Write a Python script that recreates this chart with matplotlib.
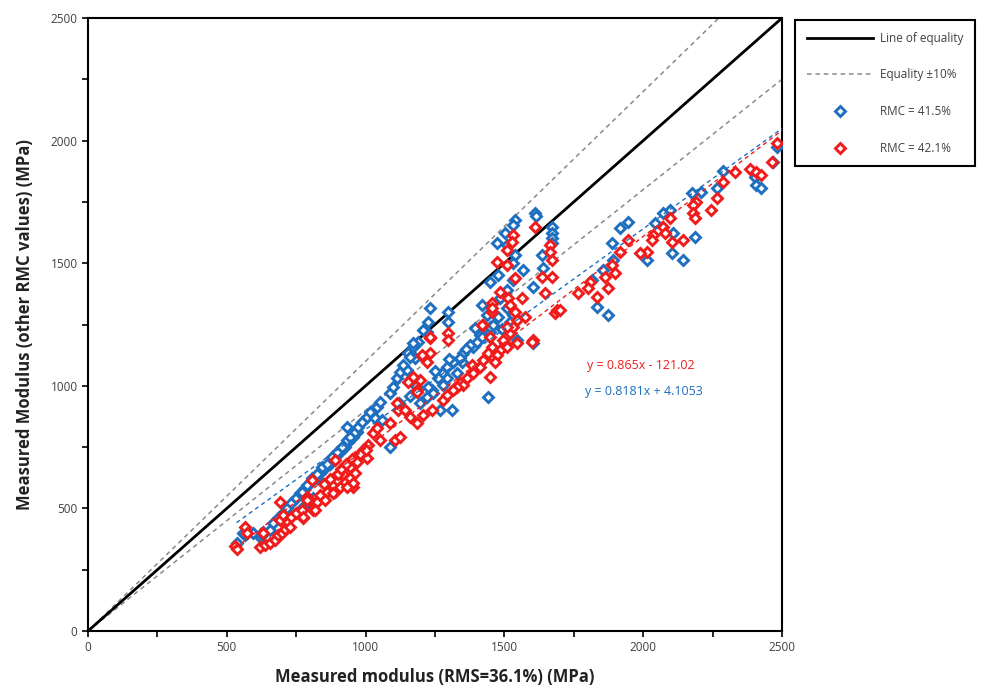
import numpy as np
import matplotlib
matplotlib.use('Agg')
import matplotlib.pyplot as plt
from matplotlib.lines import Line2D

# RMC = 41.5% (blue)
blue_x = [535, 565, 595, 560, 620, 625, 631, 656, 667, 685, 703, 716, 733, 751, 764, 782, 800, 824, 836, 854,
          872, 890, 908, 926, 938, 956, 968, 932, 764, 788, 811,
          770, 788, 806, 824, 842, 860, 878, 896, 914, 932, 944, 962, 974, 986, 1004, 1016, 1040, 1052, 1088,
          1100, 1112, 1124, 1148, 1154, 1172, 1190, 1220, 1178, 1034, 1088, 1196, 1220, 1238, 1280, 1292, 1328,
          1346, 1268, 1310, 1388, 1448, 1544, 1604,
          1610, 1614, 1538, 1532, 1502, 1472, 1508, 1670, 1670, 1670, 1670, 1538, 1532, 1568, 1634, 1640, 1478,
          1448, 1532, 1604, 1508, 1484, 1418, 1436, 1478, 1508, 1532, 1232, 1298, 1298, 1226, 1208, 1172, 1448,
          1394, 1412, 1376, 1352, 1340, 1316, 1292, 1274, 1262, 1226, 1244, 1442, 1160, 1136,
          1060, 1120, 1160, 1180, 1250, 1300, 1360, 1400, 1420, 1460, 1490, 1520,
          2481, 2469, 2403, 2408, 2426, 2289, 2265, 2174, 2210, 2096, 2072, 2042, 2186, 2108, 2102, 2144, 2012,
          1946, 1916, 1886, 1892, 1856, 1814, 1832, 1874]
blue_y = [360, 391, 398, 398, 385, 391, 405, 412, 439, 459, 480, 500, 521, 541, 562, 582, 602, 622, 643, 663,
          683, 710, 731, 751, 772, 792, 813, 833, 493, 521, 541,
          568, 595, 622, 642, 669, 683, 710, 731, 751, 778, 792, 813, 833, 853, 873, 894, 914, 935, 969,
          997, 1030, 1058, 1064, 1132, 1160, 1180, 1221, 1112, 867, 751, 928, 955, 982, 1003, 1030, 1051,
          1099, 901, 901, 1160, 1221, 1187, 1173,
          1703, 1692, 1676, 1656, 1622, 1581, 1574, 1649, 1622, 1601, 1581, 1533, 1499, 1472, 1533, 1479, 1452,
          1424, 1431, 1404, 1390, 1357, 1329, 1289, 1282, 1316, 1289, 1316, 1302, 1262, 1262, 1227, 1173, 1241,
          1234, 1207, 1166, 1132, 1112, 1099, 1078, 1051, 1030, 996, 969, 955, 1119, 1085,
          860, 930, 960, 1000, 1060, 1110, 1150, 1180, 1200, 1250, 1230, 1260,
          1975, 1914, 1853, 1819, 1805, 1874, 1805, 1785, 1792, 1717, 1703, 1662, 1608, 1622, 1540, 1513, 1513,
          1669, 1642, 1581, 1513, 1472, 1431, 1322, 1289]

# RMC = 42.1% (red)
red_x = [530, 535, 565, 572, 631, 620, 638, 656, 674, 685, 698, 710, 728, 692, 692, 703, 733, 751, 770, 775,
         811, 800, 788, 824, 836, 860, 890, 884, 908, 926, 944, 956, 962, 890, 806,
         788, 818, 776, 854, 884, 896, 920, 944, 956, 932, 962, 992, 1004, 1028, 1040, 1052, 1088, 1106, 1124,
         1118, 1112, 1142, 1160, 1184, 1208, 1238, 1280, 1292, 1322, 1340, 1364, 1388, 1412, 1448, 1460, 1484,
         1502, 1520, 1532, 1544, 1424, 1454, 1298, 1298, 1232, 1232, 1208, 1196, 1172, 1184, 1604, 1682,
         850, 870, 900, 910, 930, 950, 970, 980, 1010, 1000,
         1610, 1532, 1526, 1508, 1472, 1508, 1664, 1664, 1670, 1634, 1670, 1538, 1484, 1454, 1454, 1514, 1520,
         1562, 1538, 1574, 1646, 1688, 1508, 1496, 1544, 1508, 1598, 1418, 1448, 1454, 1442, 1472, 1466, 1424,
         1382, 1388, 1352, 1328, 1316, 1232, 1202, 1220, 1172, 1154, 1184,
         2481, 2463, 2385, 2408, 2426, 2331, 2289, 2265, 2246, 2192, 2180, 2180, 2186, 2096, 2072, 2078, 2036,
         2030, 2102, 2144, 2012, 1988, 1946, 1916, 1886, 1898, 1862, 1874, 1808, 1802, 1832, 1766, 1700]
red_y = [345, 335, 425, 398, 398, 344, 351, 357, 371, 391, 398, 418, 425, 527, 452, 473, 466, 480, 493, 459,
         493, 534, 548, 527, 555, 568, 568, 595, 588, 609, 622, 588, 643, 697, 616,
         534, 493, 466, 534, 562, 616, 642, 669, 602, 588, 710, 738, 704, 806, 826, 778, 847, 778, 792,
         901, 928, 901, 873, 847, 880, 901, 942, 962, 990, 1010, 1030, 1058, 1078, 1037, 1119, 1146,
         1173, 1214, 1241, 1268, 1248, 1302, 1214, 1187, 1193, 1132, 1119, 1024, 1030, 982, 1187, 1296,
         600, 620, 640, 660, 680, 700, 690, 720, 760, 740,
         1649, 1615, 1588, 1554, 1506, 1492, 1574, 1547, 1513, 1445, 1445, 1438, 1384, 1336, 1316, 1357, 1329,
         1357, 1302, 1282, 1377, 1309, 1241, 1187, 1173, 1159, 1180, 1248, 1200, 1159, 1132, 1125, 1098, 1105,
         1085, 1051, 1003, 996, 982, 1200, 1125, 1098, 1037, 1017, 976,
         1989, 1914, 1886, 1873, 1859, 1873, 1832, 1764, 1717, 1751, 1737, 1703, 1683, 1683, 1649, 1622, 1615,
         1594, 1588, 1594, 1547, 1540, 1594, 1547, 1492, 1458, 1445, 1397, 1424, 1397, 1363, 1380, 1309]

# trendline coefficients as printed on the chart
blue_fit = (0.8181, 4.1053)
red_fit = (0.865, -121.02)

BLUE = '#1f6fc0'
RED = '#f01c1c'
GREY_TXT = '#404040'


def main():
    plt.rcParams['font.family'] = ['Open Sans', 'DejaVu Sans']
    fig = plt.figure(figsize=(9.85, 6.98), dpi=100)
    ax = fig.add_axes([88 / 985, 1 - 631 / 698, 694 / 985, 613 / 698])

    # equality lines
    lim = np.array([0, 2500])
    ax.plot(lim, lim, color='black', lw=2, zorder=3)
    ax.plot(lim, lim * 1.1, color='#8a8a8a', lw=1.1, ls=(0, (3, 2.5)), zorder=2)
    ax.plot(lim, lim * 0.9, color='#8a8a8a', lw=1.1, ls=(0, (3, 2.5)), zorder=2)

    # scatter
    mk = dict(ls='none', marker='D', ms=5.5, mfc='white', mew=2.1)
    ax.plot(blue_x, blue_y, mec=BLUE, zorder=4, **mk)
    ax.plot(red_x, red_y, mec=RED, zorder=5, **mk)

    # trendlines
    bx = np.array([min(blue_x), 2500])
    rx = np.array([min(red_x), 2500])
    ax.plot(bx, blue_fit[0] * bx + blue_fit[1], color=BLUE, lw=1, ls=(0, (3, 2.5)), zorder=6)
    ax.plot(rx, red_fit[0] * rx + red_fit[1], color=RED, lw=1, ls=(0, (3, 2.5)), zorder=6)

    ax.text(1797, 1081, 'y = 0.865x - 121.02', color=RED, fontsize=9, va='center')
    ax.text(1790, 975, 'y = 0.8181x + 4.1053', color=BLUE, fontsize=9, va='center')

    ax.set_xlim(0, 2500)
    ax.set_ylim(0, 2500)
    ax.set_xticks(np.arange(0, 2501, 500))
    ax.set_yticks(np.arange(0, 2501, 500))
    ax.set_xticks(np.arange(0, 2501, 250), minor=True)
    ax.set_yticks(np.arange(0, 2501, 250), minor=True)
    ax.tick_params(which='both', direction='out', length=4, width=1.2, labelsize=8.5, labelcolor=GREY_TXT)
    for s in ax.spines.values():
        s.set_linewidth(1.5)

    ax.set_xlabel('Measured modulus (RMS=36.1%) (MPa)', fontsize=12, fontweight='bold', color='#222222', labelpad=10)
    ax.set_ylabel('Measured Modulus (other RMC values) (MPa)', fontsize=12, fontweight='bold', color='#222222', labelpad=12)

    handles = [
        Line2D([], [], color='black', lw=2),
        Line2D([], [], color='#8a8a8a', lw=1.1, ls=(0, (3, 2.5))),
        Line2D([], [], mec=BLUE, **mk),
        Line2D([], [], mec=RED, **mk),
    ]
    labels = ['Line of equality', 'Equality \u00b110%', 'RMC = 41.5%', 'RMC = 42.1%']
    leg = fig.legend(handles, labels, loc='upper left', bbox_to_anchor=(795 / 985, 1 - 20 / 698),
                     fontsize=8.5, handlelength=5.6, labelspacing=2.0, borderpad=1.0,
                     handletextpad=0.6, borderaxespad=0, fancybox=False, framealpha=1,
                     edgecolor='black')
    leg.get_frame().set_linewidth(1.5)
    for t in leg.get_texts():
        t.set_color(GREY_TXT)

    fig.savefig('out.png', dpi=100)


if __name__ == '__main__':
    main()
